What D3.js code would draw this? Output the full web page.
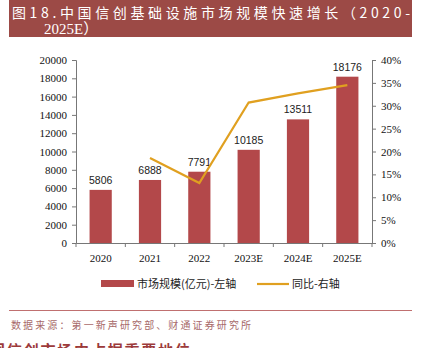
<!DOCTYPE html>
<html><head><meta charset="utf-8">
<script src="https://cdn.jsdelivr.net/npm/d3@7"></script>
<style>body{margin:0;background:#fff}svg{display:block}</style>
</head><body>
<svg id="c" width="425" height="348"></svg>
<script>
const categories = ["2020","2021","2022","2023E","2024E","2025E"];
const marketSize = [5806, 6888, 7791, 10185, 13511, 18176];
const growth = [null, 0.186, 0.131, 0.307, 0.327, 0.345];
const leftTicks = [0,2000,4000,6000,8000,10000,12000,14000,16000,18000,20000];
const rightTicks = [0,0.05,0.10,0.15,0.20,0.25,0.30,0.35,0.40];

const svg = d3.select("#c");
const L = 76, R = 372, T = 60, B = 243;
const x = d3.scaleBand().domain(categories).range([L, R]).paddingInner(0.55).paddingOuter(0.275);
const xb = d3.scaleBand().domain(categories).range([L, R]);
const y = d3.scaleLinear().domain([0, 20000]).range([B, T]);
const y2 = d3.scaleLinear().domain([0, 0.40]).range([B, T]);

const serif = "'Liberation Serif', 'Times New Roman', serif";
const cjk = "'Noto Sans CJK SC', sans-serif";

// title band
svg.append("rect").attr("x", 9).attr("y", 0).attr("width", 403).attr("height", 37).attr("fill", "#9c4a46");
svg.append("text").attr("x", 12).attr("y", 18).attr("fill", "#fff")
  .attr("font-family", cjk).attr("font-size", 14)
  .attr("textLength", 398).attr("lengthAdjust", "spacing")
  .text("图18.中国信创基础设施市场规模快速增长（2020-");
svg.append("text").attr("x", 44).attr("y", 34).attr("fill", "#fff")
  .attr("font-family", "'Liberation Serif', 'Noto Sans CJK SC', serif").attr("font-size", 15)
  .text("2025E）");

// bars
svg.append("g").selectAll("rect").data(marketSize).join("rect")
  .attr("x", (d, i) => x(categories[i])).attr("width", x.bandwidth())
  .attr("y", d => y(d)).attr("height", d => B - y(d)).attr("fill", "#b3484a");

// data labels
svg.append("g").selectAll("text").data(marketSize).join("text")
  .attr("x", (d, i) => x(categories[i]) + x.bandwidth() / 2).attr("y", d => y(d) - 6)
  .attr("text-anchor", "middle").attr("font-family", "'Liberation Sans', sans-serif")
  .attr("font-size", 10.5).attr("fill", "#222").text(d => d);

// line
const pts = growth.map((g, i) => [categories[i], g]).filter(d => d[1] !== null);
svg.append("path").datum(pts)
  .attr("d", d3.line().x(d => xb(d[0]) + xb.bandwidth() / 2).y(d => y2(d[1])))
  .attr("fill", "none").attr("stroke", "#e0a020").attr("stroke-width", 2.2);

const axisColor = "#777";

// left axis
const ga = svg.append("g").attr("transform", `translate(${L},0)`)
  .call(d3.axisLeft(y).tickValues(leftTicks).tickSize(4).tickPadding(5).tickFormat(d3.format("d")));
// right axis
const gr = svg.append("g").attr("transform", `translate(${R},0)`)
  .call(d3.axisRight(y2).tickValues(rightTicks).tickSize(4).tickPadding(5).tickFormat(d3.format(".0%")));
// bottom axis
const gb = svg.append("g").attr("transform", `translate(0,${B})`)
  .call(d3.axisBottom(xb).tickSize(0).tickPadding(11));
gb.selectAll(".bound").data(d3.range(categories.length + 1)).join("line")
  .attr("x1", i => L + i * xb.step()).attr("x2", i => L + i * xb.step())
  .attr("y1", 0).attr("y2", 4).attr("stroke", axisColor);
[ga, gr, gb].forEach(g => {
  g.selectAll("path.domain").attr("stroke", axisColor);
  g.selectAll(".tick line").attr("stroke", axisColor);
  g.selectAll("text").attr("font-family", serif).attr("font-size", 11).attr("fill", "#111");
});

// legend
svg.append("rect").attr("x", 101).attr("y", 280).attr("width", 33).attr("height", 7).attr("fill", "#b3484a");
svg.append("text").attr("x", 137).attr("y", 288).attr("font-family", cjk)
  .attr("font-size", 11).attr("fill", "#222").text("市场规模(亿元)-左轴");
svg.append("line").attr("x1", 257).attr("x2", 289).attr("y1", 284).attr("y2", 284)
  .attr("stroke", "#e0a020").attr("stroke-width", 2.2);
svg.append("text").attr("x", 292).attr("y", 288).attr("font-family", cjk)
  .attr("font-size", 11).attr("fill", "#222").text("同比-右轴");

// footer
svg.append("line").attr("x1", 9).attr("x2", 412).attr("y1", 310.5).attr("y2", 310.5)
  .attr("stroke", "#c07070").attr("stroke-width", 1);
svg.append("text").attr("x", 11).attr("y", 329).attr("font-family", cjk)
  .attr("font-size", 10).attr("fill", "#a86a6a").attr("textLength", 240).attr("lengthAdjust", "spacing")
  .text("数据来源：第一新声研究部、财通证券研究所");
svg.append("text").attr("x", -10).attr("y", 356).attr("font-family", cjk)
  .attr("font-size", 15).attr("font-weight", "bold").attr("fill", "#9c3a3a")
  .attr("textLength", 200).attr("lengthAdjust", "spacing")
  .text("国信创市场中占据重要地位");
</script>
</body></html>
